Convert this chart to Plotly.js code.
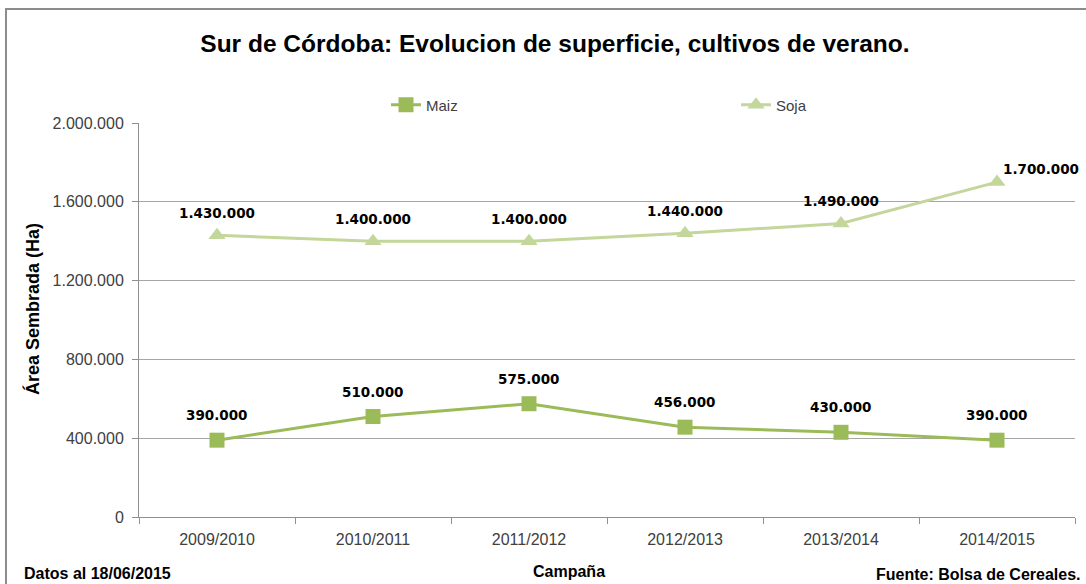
<!DOCTYPE html>
<html><head><meta charset="utf-8">
<script src="https://cdn.plot.ly/plotly-3.0.1.min.js"></script>
<style>html,body{margin:0;padding:0;background:#fff;}#chart{width:1086px;height:584px;}</style>
</head><body><div id="chart"></div>
<script>
const campaigns = ["2009/2010","2010/2011","2011/2012","2012/2013","2013/2014","2014/2015"];
const maiz = [390000, 510000, 575000, 456000, 430000, 390000];
const soja = [1430000, 1400000, 1400000, 1440000, 1490000, 1700000];
const yTickVals = [0, 400000, 800000, 1200000, 1600000, 2000000];
const yTickText = ["0","400.000","800.000","1.200.000","1.600.000","2.000.000"];

function fmt(v){ return String(v).replace(/\B(?=(\d{3})+(?!\d))/g, "."); }

const labelFont = {family:"DejaVu Sans", size:13.5, color:"#000", weight:"bold"};

const traces = [
  {x:campaigns, y:maiz, name:"Maiz", type:"scatter", mode:"lines+markers",
   line:{color:"#9BBB59", width:3},
   marker:{symbol:"square", size:15, color:"#9BBB59"}, legend:"legend"},
  {x:campaigns, y:soja, name:"Soja", type:"scatter", mode:"lines+markers",
   line:{color:"#C3D69B", width:3},
   marker:{symbol:"triangle-up", size:15, color:"#C3D69B"}, legend:"legend2"}
];

const dataLabels = [];
maiz.forEach((v,i)=>dataLabels.push({x:campaigns[i], y:v, xref:"x", yref:"y", text:fmt(v),
  showarrow:false, yanchor:"bottom", yshift:15, font:labelFont}));
soja.forEach((v,i)=>{
  const last = i===soja.length-1;
  dataLabels.push({x:campaigns[i], y:v, xref:"x", yref:"y", text:fmt(v), showarrow:false,
    yanchor:"bottom", xanchor:last?"left":"center", xshift:last?4:0, yshift:last?3:12, font:labelFont});
});

const legFont = {family:"Liberation Sans", size:15, color:"#404040"};
const layout = {
  width:1086, height:584,
  margin:{l:139, r:11, t:123, b:67},
  paper_bgcolor:"#fff", plot_bgcolor:"#fff",
  font:{family:"Liberation Sans", color:"#404040", size:16},
  title:{text:"<b>Sur de Córdoba: Evolucion de superficie, cultivos de verano.</b>",
         font:{family:"Liberation Sans", size:24.5, color:"#000"},
         x:0.511, xanchor:"center", y:0.925, yanchor:"middle"},
  showlegend:true,
  legend:{orientation:"h", x:(386-139)/936, xanchor:"left", y:(517-105)/394, yanchor:"middle",
          font:legFont, bgcolor:"rgba(0,0,0,0)"},
  legend2:{orientation:"h", x:(736-139)/936, xanchor:"left", y:(517-105)/394, yanchor:"middle",
          font:legFont, bgcolor:"rgba(0,0,0,0)"},
  xaxis:{type:"category", range:[-0.5,5.5], tickson:"boundaries",
         ticks:"outside", ticklen:6, tickcolor:"#909090",
         showline:true, linecolor:"#909090", linewidth:1, showgrid:false, zeroline:false,
         ticklabelstandoff:8,
         tickfont:{family:"Liberation Sans", size:16, color:"#404040"}},
  yaxis:{range:[0,2000000], tickvals:yTickVals, ticktext:yTickText,
         ticks:"outside", ticklen:6, tickcolor:"#909090",
         showline:true, linecolor:"#909090", linewidth:1,
         showgrid:true, gridcolor:"#a6a6a6", gridwidth:1, zeroline:false,
         ticklabelstandoff:5,
         tickfont:{family:"Liberation Sans", size:16, color:"#404040"}},
  shapes:[
    {type:"rect", xref:"paper", yref:"paper", x0:-0.1421, x1:1.03, y0:-0.3, y1:1.2893,
     line:{color:"#8c8c8c", width:2}, fillcolor:"rgba(0,0,0,0)", layer:"below"}
  ],
  annotations:[
    {text:"<b>Área Sembrada (Ha)</b>", xref:"paper", yref:"paper", textangle:-90,
     x:(32-139)/936, xanchor:"center", y:(517-309)/394, yanchor:"middle", showarrow:false,
     font:{family:"Liberation Sans", size:18, color:"#000"}},
    {text:"<b>Campaña</b>", xref:"paper", yref:"paper",
     x:(569-139)/936, xanchor:"center", y:(517-571)/394, yanchor:"middle", showarrow:false,
     font:{family:"Liberation Sans", size:16, color:"#000"}},
    {text:"<b>Datos al 18/06/2015</b>", xref:"paper", yref:"paper",
     x:(22-139)/936, xanchor:"left", y:(517-573)/394, yanchor:"middle", showarrow:false,
     font:{family:"Liberation Sans", size:16, color:"#000"}},
    {text:"<b>Fuente: Bolsa de Cereales.</b>", xref:"paper", yref:"paper",
     x:(1083-139)/936, xanchor:"right", y:(517-574)/394, yanchor:"middle", showarrow:false,
     font:{family:"Liberation Sans", size:16, color:"#000"}}
  ].concat(dataLabels)
};

Plotly.newPlot("chart", traces, layout, {displayModeBar:false, staticPlot:true});
</script>
</body></html>
